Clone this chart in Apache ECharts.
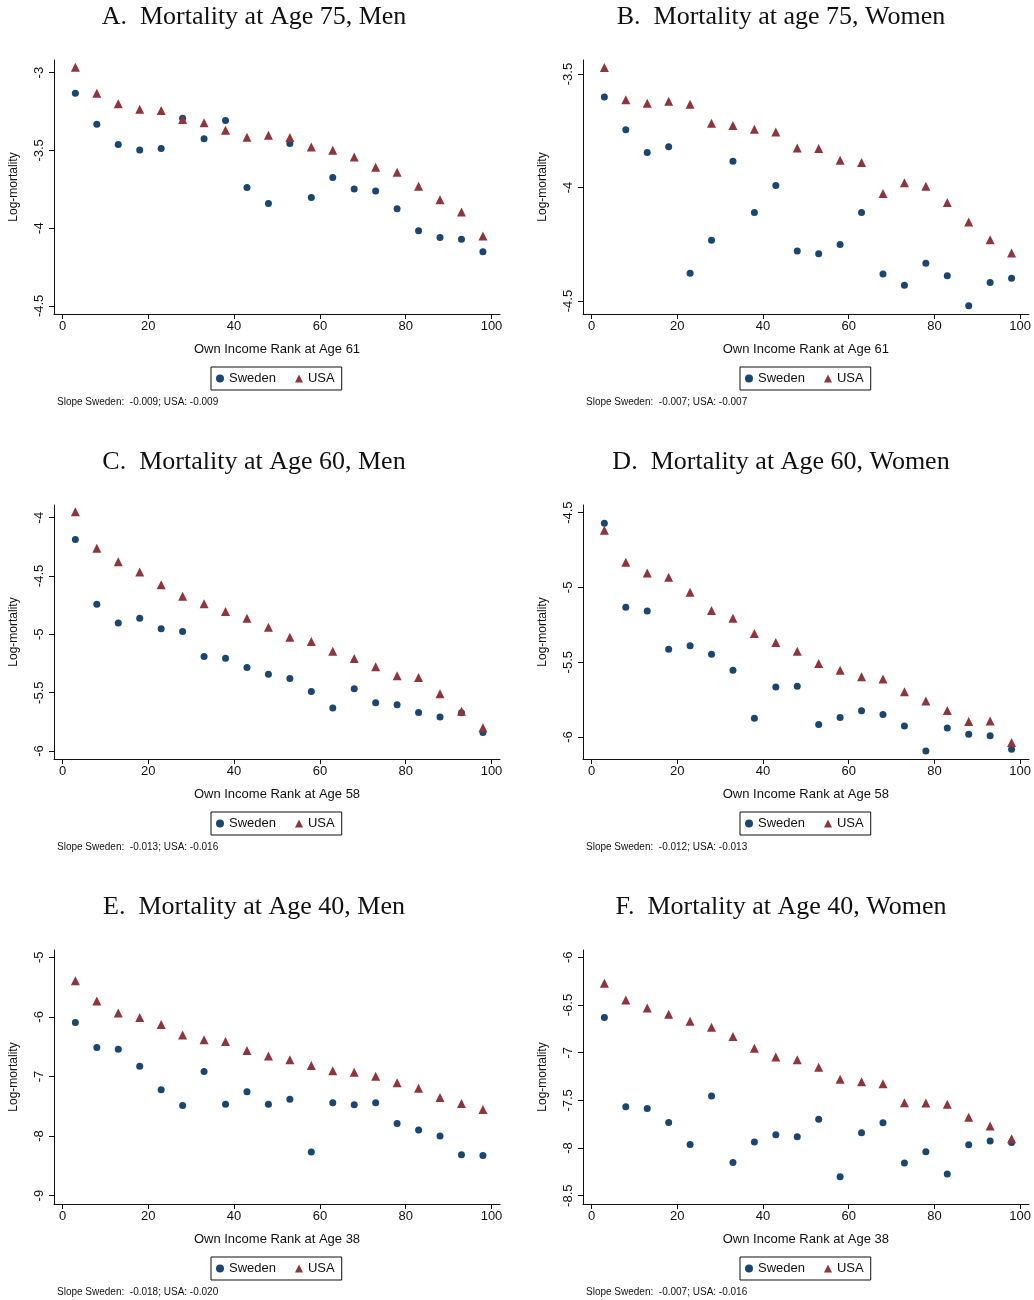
<!DOCTYPE html>
<html>
<head>
<meta charset="utf-8">
<script src="https://cdn.jsdelivr.net/npm/echarts@6/dist/echarts.min.js"></script>
<style>
  html, body { margin: 0; padding: 0; background: #fff; }
  #main { width: 1034px; height: 1300px; }
</style>
</head>
<body>
<div id="main"></div>
<script>
// income rank bins (x)
var rank = [3, 8, 13, 18, 23, 28, 33, 38, 43, 48, 53, 58, 63, 68, 73, 78, 83, 88, 93, 98];

// A. age 75, men
var swe75m = [-3.133, -3.332, -3.463, -3.497, -3.488, -3.293, -3.426, -3.308, -3.739, -3.842,
              -3.456, -3.803, -3.675, -3.749, -3.762, -3.876, -4.017, -4.060, -4.071, -4.152];
var usa75m = [-2.966, -3.133, -3.201, -3.236, -3.244, -3.302, -3.323, -3.370, -3.415, -3.403,
              -3.418, -3.478, -3.499, -3.542, -3.608, -3.640, -3.730, -3.818, -3.897, -4.051];
// B. age 75, women
var swe75w = [-3.601, -3.745, -3.845, -3.820, -4.377, -4.232, -3.884, -4.110, -3.991, -4.280,
              -4.292, -4.251, -4.110, -4.381, -4.430, -4.333, -4.389, -4.521, -4.418, -4.400];
var usa75w = [-3.471, -3.613, -3.628, -3.620, -3.633, -3.717, -3.727, -3.743, -3.755, -3.826,
              -3.828, -3.880, -3.890, -4.026, -3.979, -3.994, -4.066, -4.152, -4.230, -4.288];
// C. age 60, men
var swe60m = [-4.188, -4.742, -4.902, -4.862, -4.953, -4.976, -5.190, -5.204, -5.284, -5.341,
              -5.378, -5.489, -5.632, -5.466, -5.586, -5.603, -5.669, -5.709, -5.672, -5.840];
var usa60m = [-3.949, -4.262, -4.379, -4.465, -4.576, -4.673, -4.739, -4.805, -4.862, -4.939,
              -5.024, -5.061, -5.144, -5.207, -5.278, -5.355, -5.369, -5.509, -5.658, -5.800];
// D. age 60, women
var swe60w = [-4.571, -5.132, -5.157, -5.413, -5.390, -5.446, -5.553, -5.875, -5.666, -5.660,
              -5.916, -5.869, -5.824, -5.849, -5.927, -6.094, -5.940, -5.982, -5.991, -6.082];
var usa60w = [-4.618, -4.832, -4.903, -4.932, -5.032, -5.155, -5.206, -5.308, -5.368, -5.426,
              -5.508, -5.553, -5.597, -5.613, -5.697, -5.760, -5.822, -5.896, -5.893, -6.036];
// E. age 40, men
var swe40m = [-6.095, -6.514, -6.542, -6.827, -7.223, -7.486, -6.916, -7.464, -7.257, -7.464,
              -7.380, -8.268, -7.441, -7.475, -7.441, -7.788, -7.899, -8.000, -8.313, -8.324];
var usa40m = [-5.391, -5.732, -5.933, -6.011, -6.128, -6.302, -6.385, -6.413, -6.564, -6.654,
              -6.721, -6.816, -6.905, -6.927, -6.994, -7.106, -7.196, -7.352, -7.453, -7.553];
// F. age 40, women
var swe40w = [-6.632, -7.568, -7.585, -7.732, -7.962, -7.453, -8.151, -7.938, -7.861, -7.882,
              -7.697, -8.301, -7.840, -7.735, -8.158, -8.039, -8.273, -7.966, -7.927, -7.941];
var usa40w = [-6.272, -6.447, -6.531, -6.597, -6.670, -6.733, -6.831, -6.953, -7.044, -7.075,
              -7.152, -7.278, -7.306, -7.327, -7.526, -7.529, -7.540, -7.676, -7.770, -7.903];

var titles = ['A.  Mortality at Age 75, Men', 'B.  Mortality at age 75, Women',
              'C.  Mortality at Age 60, Men', 'D.  Mortality at Age 60, Women',
              'E.  Mortality at Age 40, Men', 'F.  Mortality at Age 40, Women'];
var xNames = ['Own Income Rank at Age 61', 'Own Income Rank at Age 61',
              'Own Income Rank at Age 58', 'Own Income Rank at Age 58',
              'Own Income Rank at Age 38', 'Own Income Rank at Age 38'];
var slopes = ['Slope Sweden:  -0.009; USA: -0.009', 'Slope Sweden:  -0.007; USA: -0.007',
              'Slope Sweden:  -0.013; USA: -0.016', 'Slope Sweden:  -0.012; USA: -0.013',
              'Slope Sweden:  -0.018; USA: -0.020', 'Slope Sweden:  -0.007; USA: -0.016'];
// y tick labels: lowest, highest, step
var yTickLo = [-4.5, -4.5, -6, -6, -9, -8.5];
var yTickHi = [-3, -3.5, -4, -4.5, -5, -6];
var yTickStep = [0.5, 0.5, 0.5, 0.5, 1, 0.5];
// full extent of the drawn y axis line
var yRange = [[-4.552, -2.919], [-4.557, -3.438], [-6.068, -3.892],
              [-6.147, -4.449], [-9.140, -4.877], [-8.587, -5.923]];
var sweden = [swe75m, swe75w, swe60m, swe60w, swe40m, swe40w];
var usa = [usa75m, usa75w, usa60m, usa60w, usa40m, usa40w];

var NAVY = '#1a476f', MAROON = '#90353b', INK = '#111';
var sans = 'Liberation Sans, Arial, sans-serif';

function pairs(ys) {
  return rank.map(function (x, i) { return [x, ys[i]]; });
}
function off() { return { show: false }; }

var grid = [], xAxis = [], yAxis = [], series = [], title = [], legend = [];
for (var i = 0; i < 6; i++) {
  var col = i % 2, row = Math.floor(i / 2);
  var L = col === 0 ? 54 : 583;
  var T = 60 + row * 445;
  var W = 446, H = 254;
  var lo = yRange[i][0], hi = yRange[i][1];
  var yTop = T + (hi - yTickHi[i]) / (hi - lo) * H;
  var yBot = T + (hi - yTickLo[i]) / (hi - lo) * H;
  var g = grid.length;

  // outer frame: the two axis lines
  grid.push({ left: L, top: T, width: W, height: H });
  xAxis.push({ type: 'value', gridIndex: g, min: 0, max: 1,
    axisLine: { show: true, onZero: false, lineStyle: { color: INK, width: 1 } },
    axisTick: off(), axisLabel: off(), splitLine: off() });
  yAxis.push({ type: 'value', gridIndex: g, min: 0, max: 1,
    name: 'Log-mortality', nameLocation: 'middle', nameGap: 34,
    nameTextStyle: { fontFamily: sans, fontSize: 12, color: INK },
    axisLine: { show: true, onZero: false, lineStyle: { color: INK, width: 1 } },
    axisTick: off(), axisLabel: off(), splitLine: off() });

  // data region: x from 0 to 100, full y extent
  grid.push({ left: L + 8.5, top: T, width: 429, height: H });
  xAxis.push({ type: 'value', gridIndex: g + 1, min: 0, max: 100, interval: 20,
    name: xNames[i], nameLocation: 'middle', nameGap: 29,
    nameTextStyle: { fontFamily: sans, fontSize: 13, color: INK },
    axisLine: { show: false, onZero: false },
    axisTick: { show: true, length: 5, lineStyle: { color: INK } },
    axisLabel: { margin: 6, fontFamily: sans, fontSize: 13, color: INK },
    splitLine: off() });
  yAxis.push({ type: 'value', gridIndex: g + 1, min: lo, max: hi, show: false });

  // y tick region
  grid.push({ left: L, top: yTop, width: W, height: yBot - yTop });
  xAxis.push({ type: 'value', gridIndex: g + 2, min: 0, max: 1, show: false });
  yAxis.push({ type: 'value', gridIndex: g + 2, min: yTickLo[i], max: yTickHi[i], interval: yTickStep[i],
    axisLine: { show: false, onZero: false },
    axisTick: { show: true, length: 5, lineStyle: { color: INK } },
    axisLabel: { rotate: 90, margin: 8, fontFamily: sans, fontSize: 13, color: INK },
    splitLine: off() });

  title.push({
    text: titles[i], left: col === 0 ? 249 : 776, top: T - 61, textAlign: 'center',
    textStyle: { fontFamily: 'Liberation Serif, serif', fontWeight: 'normal', fontSize: 26, color: INK }
  });
  title.push({
    text: slopes[i], left: L + 3, top: T + 337, padding: 0,
    textStyle: { fontFamily: sans, fontWeight: 'normal', fontSize: 10, color: INK }
  });

  series.push({
    name: 'Sweden', type: 'scatter', xAxisIndex: g + 1, yAxisIndex: g + 1,
    symbol: 'circle', symbolSize: 7, itemStyle: { color: NAVY, opacity: 1 }, data: pairs(sweden[i])
  });
  series.push({
    name: 'USA', type: 'scatter', xAxisIndex: g + 1, yAxisIndex: g + 1,
    symbol: 'triangle', symbolSize: 9, itemStyle: { color: MAROON, opacity: 1 }, data: pairs(usa[i])
  });

  legend.push({
    data: [{ name: 'Sweden', icon: 'circle' }, { name: 'USA', icon: 'triangle' }],
    left: L + 157, top: T + 307, orient: 'horizontal',
    itemWidth: 8, itemHeight: 8, itemGap: 19,
    padding: [5, 7, 5, 5], borderColor: INK, borderWidth: 1,
    textStyle: { fontFamily: sans, fontSize: 13, color: INK },
    selectedMode: false
  });
}

var chart = echarts.init(document.getElementById('main'), null, { renderer: 'canvas' });
chart.setOption({
  backgroundColor: '#fff',
  animation: false,
  title: title,
  legend: legend,
  grid: grid,
  xAxis: xAxis,
  yAxis: yAxis,
  series: series
});
</script>
</body>
</html>
